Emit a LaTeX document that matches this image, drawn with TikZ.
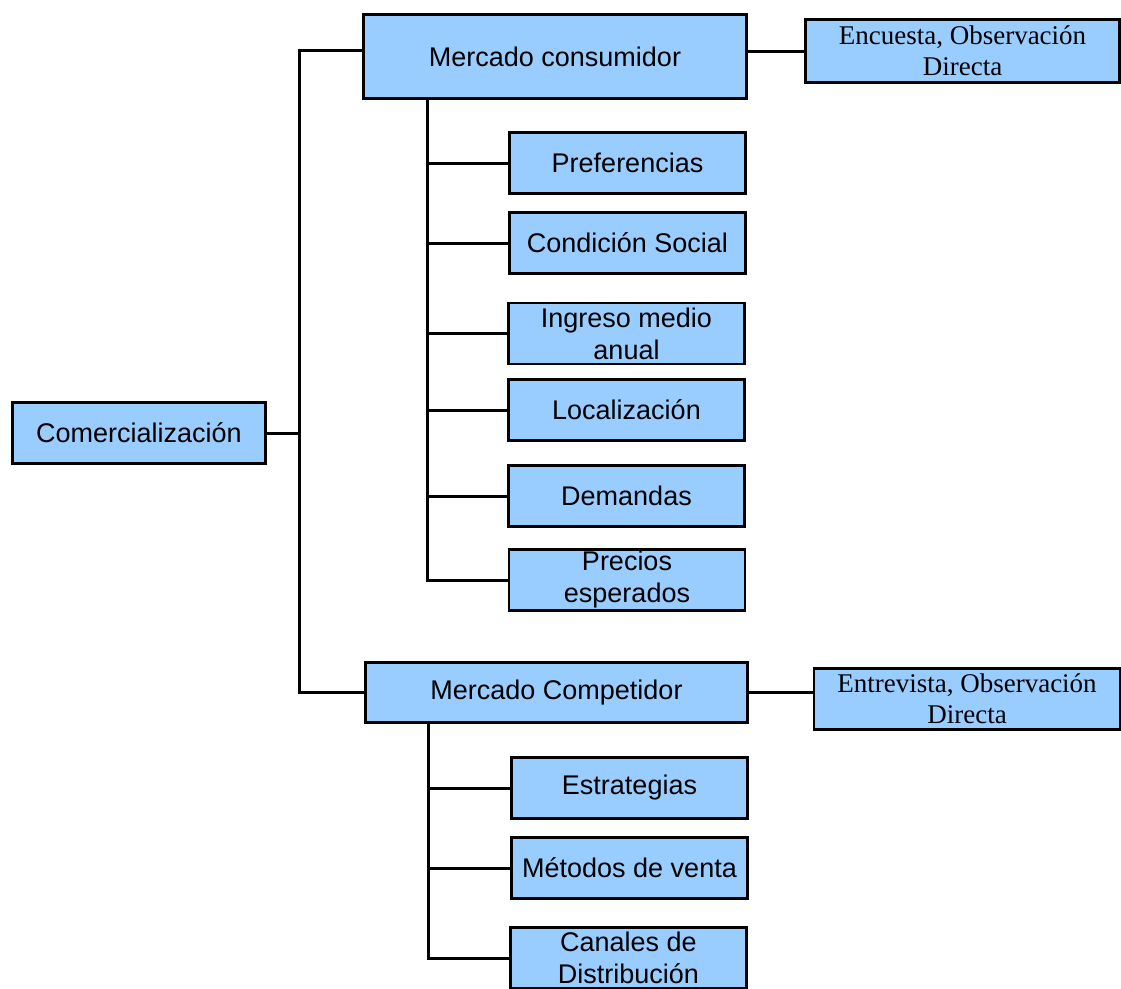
\documentclass[tikz,border=0pt]{standalone}
\usepackage{fontspec}
\setmainfont{Liberation Sans}
\newfontfamily\timesface{Liberation Serif}
\definecolor{boxblue}{HTML}{99CCFF}
\begin{document}
\begin{tikzpicture}[x=1pt,y=-1pt,
  box/.style={draw=black, line width=2.8pt, fill=boxblue, inner sep=0pt,
    align=center, font=\fontsize{27}{32}\selectfont},
  leaf/.style={box, minimum width=236pt, minimum height=61pt},
  note/.style={box, font=\timesface\fontsize{27}{31}\selectfont},
  link/.style={line width=3pt, line cap=rect}]
\useasboundingbox (0,0) rectangle (1121,988);
\clip (0,0) rectangle (1121,988);

% root and the two market branches
\node[box, minimum width=253pt, minimum height=61pt] (com) at (139,433) {Comercialización};
\node[box, minimum width=383pt, minimum height=84pt] (mc) at (555,56.5) {Mercado consumidor};
\node[box, minimum width=382pt, minimum height=60pt] (mk) at (556.5,692.5) {Mercado Competidor};

% research methods
\node[note, minimum width=314pt, minimum height=63pt] (enc) at (962.5,51) {Encuesta, Observación\\Directa};
\node[note, minimum width=306pt, minimum height=61pt] (ent) at (967,699) {Entrevista, Observación\\Directa};

% consumer market items
\node[leaf] (pref) at (627.5,163) {Preferencias};
\node[leaf] (cond) at (627.5,243) {Condición Social};
\node[leaf] (ing)  at (626.5,333.5) {Ingreso medio\\anual};
\node[leaf] (loc)  at (626.5,410) {Localización};
\node[leaf] (dem)  at (626.5,496) {Demandas};
\node[leaf] (prec) at (627,580) {Precios\\esperados};

% competitor market items
\node[leaf] (estr) at (629.5,788) {Estrategias};
\node[leaf] (met)  at (629.5,868) {Métodos de venta};
\node[leaf] (can)  at (628.5,958) {Canales de\\Distribución};

% trunk lines
\coordinate (tr) at (299,433);
\coordinate (vc) at (427,0);
\coordinate (vk) at (428,0);

\draw[link] (com.east) -- (tr);
\draw[link] ([yshift=6pt]mc.west) -| (tr) |- (mk.west);
\draw[link] ([yshift=5pt]mc.east) -- ([yshift=5pt]mc.east -| enc.west);
\draw[link] (mk.east) -- (mk.east -| ent.west);

\draw[link] (mc.south -| vc) |- (prec.west);
\foreach \n in {pref,cond,ing,loc,dem}
  \draw[link] (vc |- \n.west) -- (\n.west);

\draw[link] (mk.south -| vk) |- (can.west);
\foreach \n in {estr,met}
  \draw[link] (vk |- \n.west) -- (\n.west);
\end{tikzpicture}
\end{document}
